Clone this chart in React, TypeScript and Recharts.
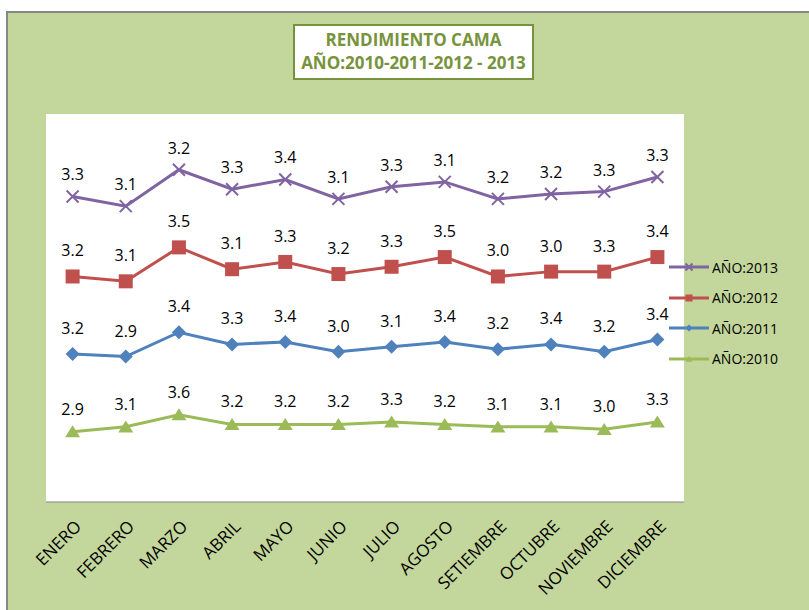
import { LineChart, Line, XAxis, YAxis, CartesianGrid, Legend, LabelList } from 'recharts'

// ─── data ────────────────────
const MESES = [
  'ENERO', 'FEBRERO', 'MARZO', 'ABRIL', 'MAYO', 'JUNIO',
  'JULIO', 'AGOSTO', 'SETIEMBRE', 'OCTUBRE', 'NOVIEMBRE', 'DICIEMBRE',
]
const Y2010 = [2.9, 3.1, 3.6, 3.2, 3.2, 3.2, 3.3, 3.2, 3.1, 3.1, 3.0, 3.3]
const Y2011 = [3.2, 2.9, 3.4, 3.3, 3.4, 3.0, 3.1, 3.4, 3.2, 3.4, 3.2, 3.4]
const Y2012 = [3.2, 3.1, 3.5, 3.1, 3.3, 3.2, 3.3, 3.5, 3.0, 3.0, 3.3, 3.4]
const Y2013 = [3.3, 3.1, 3.2, 3.3, 3.4, 3.1, 3.3, 3.1, 3.2, 3.2, 3.3, 3.3]
const Y_DOMAIN = [0, 16]

const FONT = '"Open Sans", sans-serif'

type Shape = 'cross' | 'square' | 'diamond' | 'triangle'

const SERIES: { key: string; name: string; color: string; shape: Shape; labelOffset: number }[] = [
  { key: 'a2013', name: 'AÑO:2013', color: '#8064a2', shape: 'cross', labelOffset: 16 },
  { key: 'a2012', name: 'AÑO:2012', color: '#c0504d', shape: 'square', labelOffset: 20 },
  { key: 'a2011', name: 'AÑO:2011', color: '#4f81bd', shape: 'diamond', labelOffset: 20 },
  { key: 'a2010', name: 'AÑO:2010', color: '#9bbb59', shape: 'triangle', labelOffset: 17 },
]

// stacked line chart: each series is drawn on top of the previous ones
const data = MESES.map((mes, i) => {
  const s1 = Y2010[i]
  const s2 = s1 + Y2011[i]
  const s3 = s2 + Y2012[i]
  const s4 = s3 + Y2013[i]
  return {
    mes,
    a2010: s1, a2011: s2, a2012: s3, a2013: s4,
    v2010: Y2010[i], v2011: Y2011[i], v2012: Y2012[i], v2013: Y2013[i],
  }
})

function Marker({ cx, cy, shape, color, size }: { cx: number; cy: number; shape: Shape; color: string; size: number }) {
  const h = size / 2
  if (shape === 'cross') {
    return (
      <path
        d={`M${cx - h},${cy - h}L${cx + h},${cy + h}M${cx - h},${cy + h}L${cx + h},${cy - h}`}
        stroke={color}
        strokeWidth={2}
        fill="none"
      />
    )
  }
  if (shape === 'square') {
    return <rect x={cx - h} y={cy - h} width={size} height={size} fill={color} />
  }
  if (shape === 'diamond') {
    return <path d={`M${cx},${cy - h}L${cx + h},${cy}L${cx},${cy + h}L${cx - h},${cy}Z`} fill={color} />
  }
  return <path d={`M${cx},${cy - h * 0.85}L${cx + h},${cy + h * 0.75}L${cx - h},${cy + h * 0.75}Z`} fill={color} />
}

const MARKER_SIZE: Record<Shape, number> = { cross: 12, square: 14, diamond: 14, triangle: 15 }

function MonthTick({ x, y, payload }: any) {
  return (
    <g transform={`translate(${x + 1},${y + 9})`}>
      <text
        transform="rotate(-45)"
        textAnchor="end"
        dy="0.72em"
        fontSize={17}
        fontFamily={FONT}
        fill="#000"
      >
        {payload.value}
      </text>
    </g>
  )
}

function LegendBox() {
  return (
    <div style={{ fontFamily: FONT, fontSize: 14, color: '#000' }}>
      {SERIES.map((s) => (
        <div key={s.key} style={{ display: 'flex', alignItems: 'center', height: 30.5 }}>
          <svg width={43} height={14}>
            <line x1={0} y1={7} x2={40} y2={7} stroke={s.color} strokeWidth={3} />
            <Marker cx={20} cy={7} shape={s.shape} color={s.color} size={7} />
          </svg>
          <span>{s.name}</span>
        </div>
      ))}
    </div>
  )
}

export default function App() {
  return (
    <div style={{ position: 'fixed', inset: 0, overflow: 'hidden', background: '#fff' }}>
      <div
        style={{
          position: 'absolute',
          left: 6,
          top: 11,
          width: 820,
          height: 620,
          background: '#c3d69b',
          borderLeft: '2px solid #878787',
          borderTop: '2px solid #878787',
        }}
      >
        <div
          style={{
            position: 'absolute',
            left: 285,
            top: 11,
            width: 237,
            height: 50,
            background: '#fff',
            border: '2px solid #76923c',
            color: '#77933c',
            fontFamily: FONT,
            fontWeight: 700,
            fontSize: 17,
            lineHeight: '23px',
            textAlign: 'center',
            paddingTop: 2,
            boxSizing: 'content-box',
          }}
        >
          <div>RENDIMIENTO CAMA</div>
          <div>AÑO:2010-2011-2012 - 2013</div>
        </div>

        <div style={{ position: 'absolute', left: 1, top: 1 }}>
          <LineChart
            width={800}
            height={596}
            data={data}
            margin={{ top: 100, right: 125, bottom: 0, left: 37 }}
          >
            <CartesianGrid horizontal={false} vertical={false} fill="#fff" stroke="none" />
            <XAxis
              dataKey="mes"
              height={108}
              padding={{ left: 26.6, right: 26.6 }}
              axisLine={{ stroke: '#868686', strokeWidth: 1 }}
              tickLine={false}
              interval={0}
              tick={<MonthTick />}
            />
            <YAxis hide domain={Y_DOMAIN} />
            <Legend
              layout="vertical"
              align="center"
              verticalAlign="middle"
              content={<LegendBox />}
              wrapperStyle={{ position: 'absolute', left: 660, top: 238, width: 140 }}
            />
            {SERIES.map((s) => (
              <Line
                key={s.key}
                dataKey={s.key}
                name={s.name}
                stroke={s.color}
                strokeWidth={3}
                isAnimationActive={false}
                dot={(p: any) => (
                  <Marker
                    key={`${s.key}-${p.index}`}
                    cx={p.cx}
                    cy={p.cy}
                    shape={s.shape}
                    color={s.color}
                    size={MARKER_SIZE[s.shape]}
                  />
                )}
                activeDot={false}
              >
                <LabelList
                  dataKey={s.key.replace('a', 'v')}
                  position="top"
                  offset={s.labelOffset}
                  formatter={(v: any) => Number(v).toFixed(1)}
                  style={{ fontFamily: FONT, fontSize: 16, fill: '#000' }}
                />
              </Line>
            ))}
          </LineChart>
        </div>
      </div>
    </div>
  )
}
